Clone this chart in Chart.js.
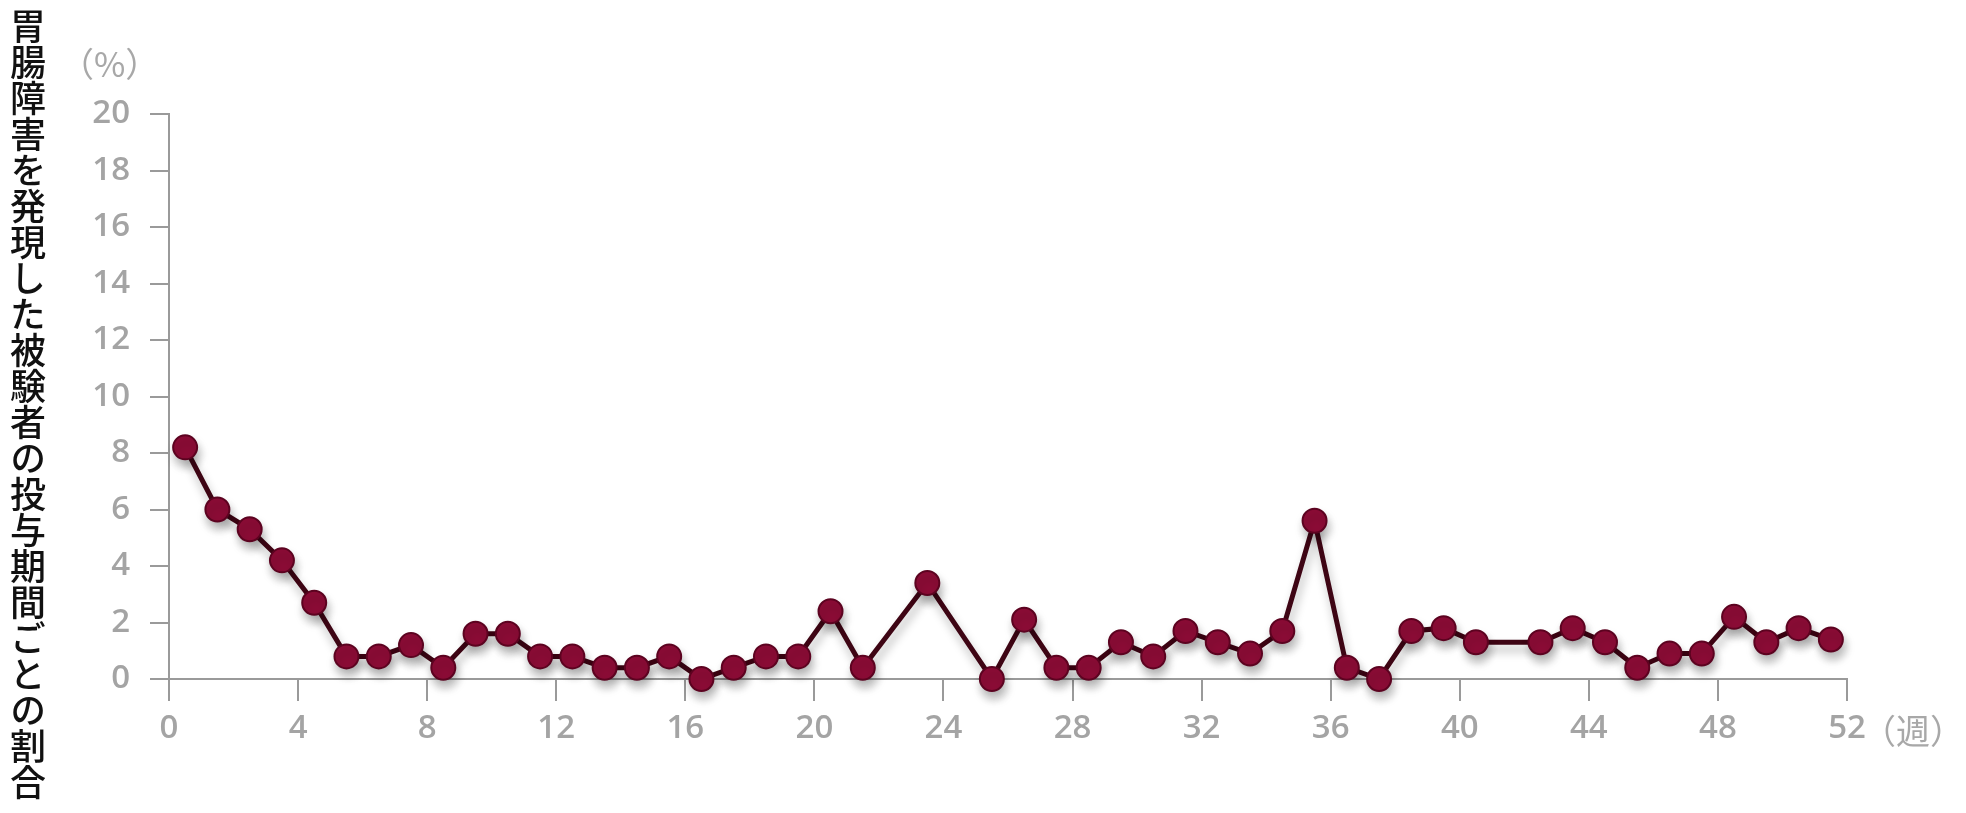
<!DOCTYPE html>
<html>
<head>
<meta charset="utf-8">
<script src="https://cdn.jsdelivr.net/npm/chart.js@4.4.1/dist/chart.umd.min.js"></script>
<style>
  html, body { margin: 0; padding: 0; background: #fff; }
  #wrap { position: relative; width: 1966px; height: 813px; }
  #wrap canvas { position: absolute; left: 0; top: 0; }
  .ytitle {
    position: absolute; left: 10px; top: 8px;
    writing-mode: vertical-rl; text-orientation: upright;
    font-family: "Noto Sans CJK JP", sans-serif; font-size: 36px; font-weight: 500;
    color: #111; line-height: 1;
  }
  .unit {
    position: absolute; font-family: "Noto Sans CJK JP", sans-serif;
    font-size: 34px; color: #a8a8a8; line-height: 1;
  }
</style>
</head>
<body>
<div id="wrap">
  <canvas id="rateChart"></canvas>
  <div class="ytitle">胃腸障害を発現した被験者の投与期間ごとの割合</div>
  <div class="unit" style="left:60px; top:46px;">（%）</div>
  <div class="unit" style="left:1862px; top:713px;">（週）</div>
</div>
<script>
// week midpoints (x) and % of subjects with GI events (y); null = no point plotted
var weeks = [0.5, 1.5, 2.5, 3.5, 4.5, 5.5, 6.5, 7.5, 8.5, 9.5,
             10.5, 11.5, 12.5, 13.5, 14.5, 15.5, 16.5, 17.5, 18.5, 19.5,
             20.5, 21.5, 22.5, 23.5, 24.5, 25.5, 26.5, 27.5, 28.5, 29.5,
             30.5, 31.5, 32.5, 33.5, 34.5, 35.5, 36.5, 37.5, 38.5, 39.5,
             40.5, 41.5, 42.5, 43.5, 44.5, 45.5, 46.5, 47.5, 48.5, 49.5,
             50.5, 51.5];
var rates = [8.2, 6.0, 5.3, 4.2, 2.7, 0.8, 0.8, 1.2, 0.4, 1.6,
             1.6, 0.8, 0.8, 0.4, 0.4, 0.8, 0.0, 0.4, 0.8, 0.8,
             2.4, 0.4, null, 3.4, null, 0.0, 2.1, 0.4, 0.4, 1.3,
             0.8, 1.7, 1.3, 0.9, 1.7, 5.6, 0.4, 0.0, 1.7, 1.8,
             1.3, null, 1.3, 1.8, 1.3, 0.4, 0.9, 0.9, 2.2, 1.3,
             1.8, 1.4];
var xTicks = [0, 4, 8, 12, 16, 20, 24, 28, 32, 36, 40, 44, 48, 52];
var yTicks = [0, 2, 4, 6, 8, 10, 12, 14, 16, 18, 20];

var points = weeks.map(function (w, i) { return { x: w, y: rates[i] }; });

var axisGray = '#9a9a9a';
var labelGray = '#a4a4a4';

// soft drop shadow under the line and markers
var shadowPlugin = {
    id: 'dropShadow',
    beforeDatasetsDraw: function (chart) {
        var ctx = chart.ctx;
        ctx.save();
        ctx.shadowColor = 'rgba(0,0,0,0.28)';
        ctx.shadowBlur = 10;
        ctx.shadowOffsetX = 2;
        ctx.shadowOffsetY = 7;
    },
    afterDatasetsDraw: function (chart) {
        chart.ctx.restore();
    }
};

var ctx = document.getElementById('rateChart').getContext('2d');
var rateChart = new Chart(ctx, {
    type: 'line',
    data: {
        datasets: [{
            data: points,
            borderColor: '#3e0514',
            borderWidth: 5,
            pointRadius: 12,
            pointBackgroundColor: '#8c0c36',
            pointBorderColor: '#5c0320',
            pointBorderWidth: 2,
            spanGaps: true,
            tension: 0,
            clip: false
        }]
    },
    options: {
        responsive: true,
        maintainAspectRatio: false,
        animation: false,
        layout: { padding: { left: 69, right: 119, top: 114, bottom: 54 } },
        plugins: { legend: { display: false }, tooltip: { enabled: false } },
        scales: {
            x: {
                type: 'linear', min: 0, max: 52,
                afterFit: function (s) { s.height = 80; },
                afterBuildTicks: function (s) { s.ticks = xTicks.map(function (v) { return { value: v }; }); },
                border: { color: axisGray, width: 2 },
                grid: { drawOnChartArea: false, drawTicks: true, tickLength: 22, color: axisGray, lineWidth: 2 },
                ticks: { color: labelGray, padding: 8, autoSkip: false, maxRotation: 0,
                         font: { family: 'Open Sans', size: 33, weight: '600' } }
            },
            y: {
                min: 0, max: 20,
                afterFit: function (s) { s.width = 100; },
                afterBuildTicks: function (s) { s.ticks = yTicks.map(function (v) { return { value: v }; }); },
                border: { color: axisGray, width: 2 },
                grid: { drawOnChartArea: false, drawTicks: true, tickLength: 19, color: axisGray, lineWidth: 2 },
                ticks: { color: labelGray, padding: 20, font: { family: 'Open Sans', size: 33, weight: '600' } }
            }
        }
    },
    plugins: [shadowPlugin]
});
</script>
</body>
</html>
